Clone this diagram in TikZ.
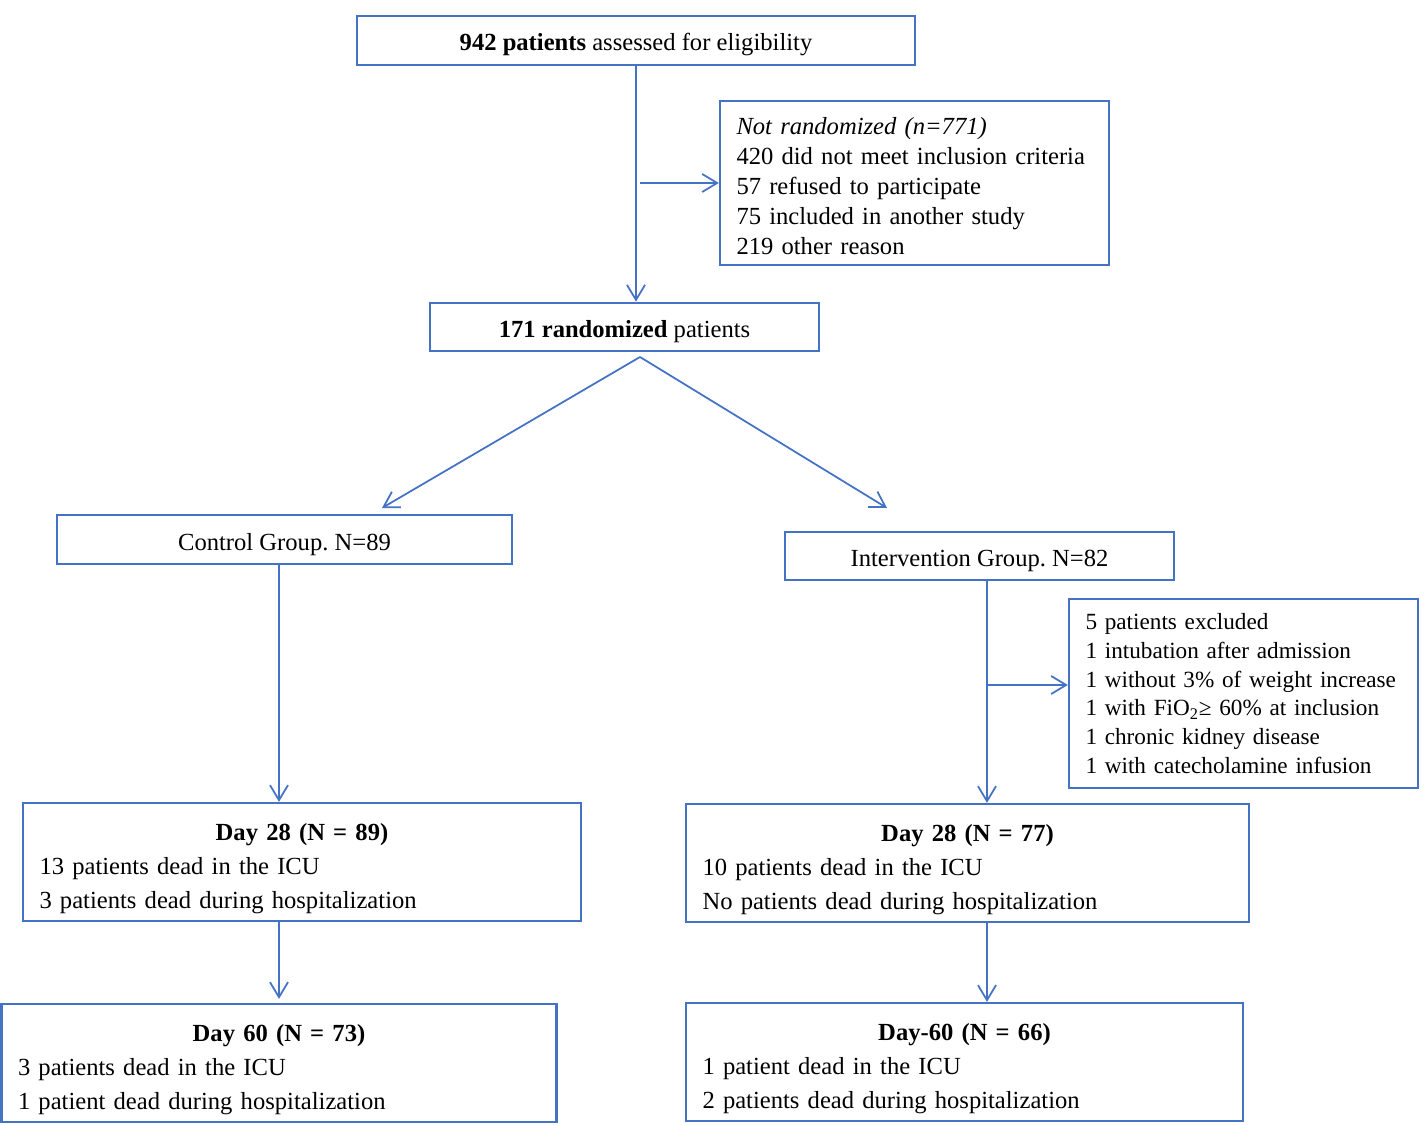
\documentclass[tikz,border=0pt]{standalone}
\usepackage{fontspec}
\setmainfont{Liberation Serif}
\frenchspacing
\usetikzlibrary{arrows.meta}
\definecolor{flowblue}{RGB}{68,114,196}
\tikzset{onebox/.style={draw=flowblue, line width=1.3pt, minimum height=0.97cm, text height=0.52cm, text depth=0.1cm, align=center, font=\fontsize{14}{17}\selectfont}}
\tikzset{listbox/.style={draw=flowblue, line width=1.3pt, inner xsep=0.33cm, inner ysep=0.1cm, align=left, font=\fontsize{14}{17}\selectfont}}
\tikzset{daybox/.style={listbox, minimum height=2.36cm, font=\fontsize{14}{19.4}\selectfont}}
\tikzset{arr/.style={draw=flowblue, line width=1pt, -{Straight Barb[length=0.3cm,width=0.36cm]}}}

\begin{document}
\begin{tikzpicture}
\useasboundingbox (0,0) rectangle (28.5,-22.5);
\node[onebox, minimum width=11.16cm] (screen) at (12.72,-0.81) {\textbf{942 patients} assessed for eligibility};
\node[listbox, text width=7.12cm, minimum height=3.28cm] (notrand) at (18.29,-3.66) {\rule{0pt}{0.47cm}\textit{Not randomized (n=771)}\\420 did not meet inclusion criteria\\57 refused to participate\\75 included in another study\\219 other reason};
\node[onebox, minimum width=7.78cm] (rand) at (12.49,-6.54) {\textbf{171 randomized} patients};
\node[onebox, minimum width=9.10cm] (control) at (5.69,-10.79) {Control Group. N=89};
\node[onebox, minimum width=7.78cm] (interv) at (19.59,-11.12) {Intervention Group. N=82};
\node[listbox, text width=6.32cm, minimum height=3.78cm, font=\fontsize{13.2}{16.4}\selectfont] (excl) at (24.87,-13.87) {5 patients excluded\\1 intubation after admission\\1 without 3\% of weight increase\\1 with FiO\textsubscript{2}≥ 60\% at inclusion\\1 chronic kidney disease\\1 with catecholamine infusion};
\node[daybox, text width=10.50cm] (ctrlday28) at (6.04,-17.24) {\makebox[\hsize]{\rule{0pt}{0.61cm}\textbf{Day 28 (N = 89)}}\\13 patients dead in the ICU\\3 patients dead during hospitalization};
\node[daybox, text width=10.60cm] (intday28) at (19.35,-17.26) {\makebox[\hsize]{\rule{0pt}{0.61cm}\textbf{Day 28 (N = 77)}}\\10 patients dead in the ICU\\No patients dead during hospitalization};
\node[daybox, text width=10.44cm] (ctrlday60) at (5.58,-21.26) {\makebox[\hsize]{\rule{0pt}{0.61cm}\textbf{Day 60 (N = 73)}}\\3 patients dead in the ICU\\1 patient dead during hospitalization};
\node[daybox, text width=10.48cm] (intday60) at (19.29,-21.24) {\makebox[\hsize]{\rule{0pt}{0.61cm}\textbf{Day-60 (N = 66)}}\\1 patient dead in the ICU\\2 patients dead during hospitalization};

\coordinate (fork) at (12.80,-7.14);
\coordinate (toctrl) at (7.64,-10.16);
\coordinate (toint) at (17.74,-10.16);

\draw[arr] (screen.south) -- (screen.south |- rand.north);
\draw[arr] ([xshift=0.08cm]screen.south |- notrand.west) -- (notrand.west);
\draw[arr] (fork) -- (toctrl);
\draw[arr] (fork) -- (toint);
\draw[arr] ([xshift=-0.11cm]control.south) -- ([xshift=-0.11cm]control.south |- ctrlday28.north);
\draw[arr] ([xshift=-0.11cm]control.south |- ctrlday28.south) -- ([xshift=-0.11cm,yshift=0.08cm]control.south |- ctrlday60.north);
\draw[arr] ([xshift=0.15cm]interv.south) -- ([xshift=0.15cm]interv.south |- intday28.north);
\draw[arr] ([xshift=0.15cm,yshift=0.17cm]interv.south |- excl.west) -- ([yshift=0.17cm]excl.west);
\draw[arr] ([xshift=0.15cm]interv.south |- intday28.south) -- ([xshift=0.15cm]interv.south |- intday60.north);
\end{tikzpicture}
\end{document}
